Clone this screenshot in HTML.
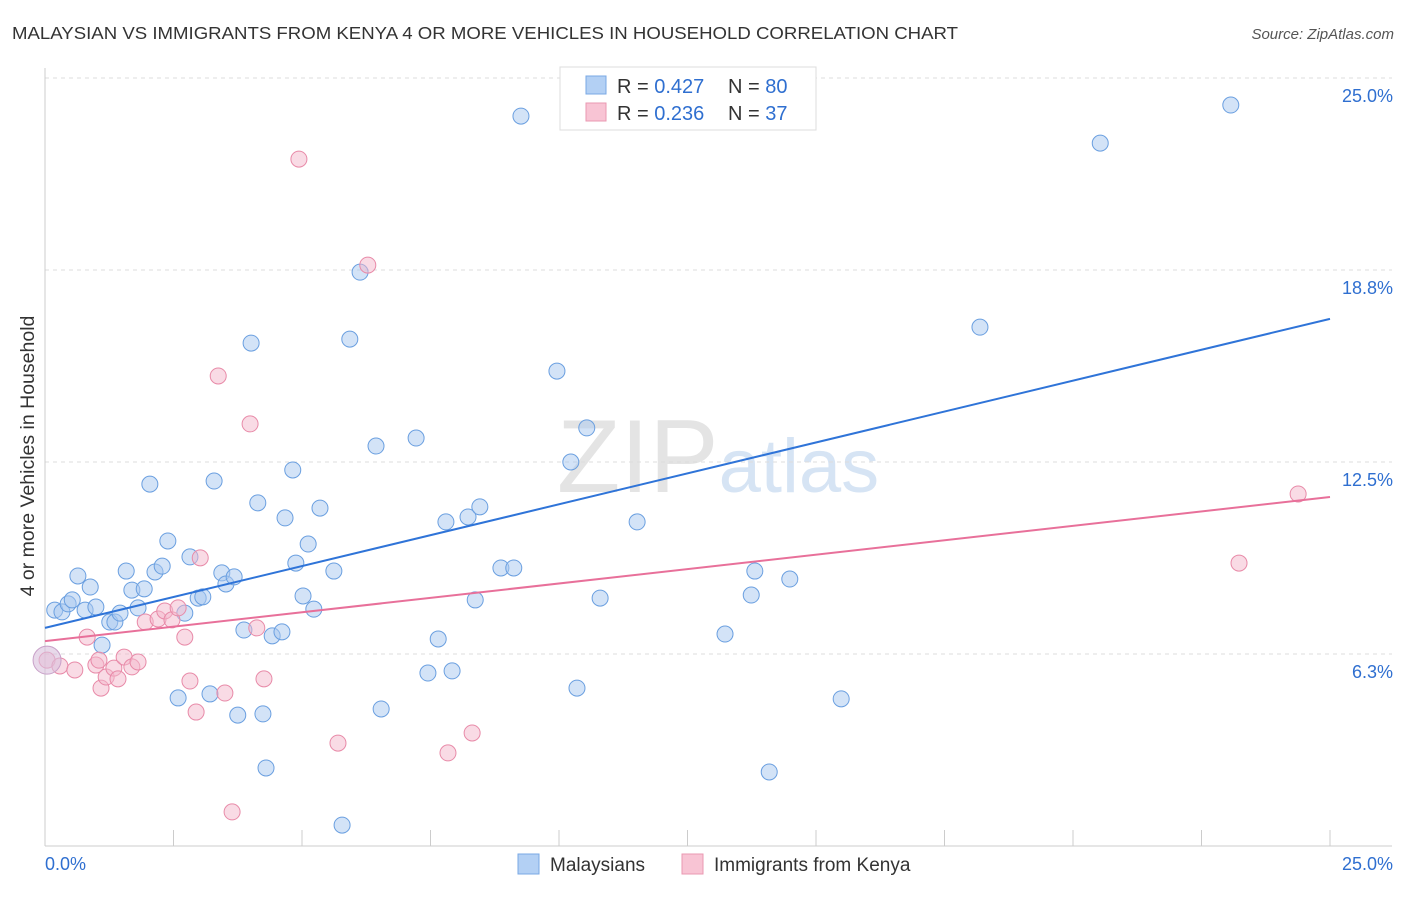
<!DOCTYPE html>
<html><head><meta charset="utf-8"><style>
body{margin:0;background:#fff;font-family:"Liberation Sans",sans-serif}
svg text{font-family:"Liberation Sans",sans-serif}
</style></head><body>
<svg id="c" width="1406" height="892" xmlns="http://www.w3.org/2000/svg">
<text x="12" y="39" font-size="17.5" fill="#333" textLength="946" lengthAdjust="spacingAndGlyphs">MALAYSIAN VS IMMIGRANTS FROM KENYA 4 OR MORE VEHICLES IN HOUSEHOLD CORRELATION CHART</text>
<text x="1394" y="39" font-size="15" fill="#555" font-style="italic" text-anchor="end">Source: ZipAtlas.com</text>
<text x="718" y="492" font-size="104" fill="#e4e4e4" text-anchor="middle" font-family="Liberation Serif">ZIP<tspan fill="#d6e4f4" font-family="Liberation Sans" font-size="76">atlas</tspan></text>
<g id="grid"></g><g id="axes"></g>
<text transform="translate(34,456) rotate(-90)" font-size="19.5" fill="#333" text-anchor="middle">4 or more Vehicles in Household</text>
<g id="pts"></g><g id="lines"></g>
<g>
<rect x="560" y="67" width="256" height="63" fill="#fff" stroke="#ddd"/>
<rect x="586" y="76" width="20" height="18" fill="#b3d0f4" stroke="#7aa8e4"/>
<rect x="586" y="103" width="20" height="18" fill="#f8c4d4" stroke="#ea98b2"/>
<text x="617" y="93" font-size="20" fill="#333">R = <tspan fill="#2f6fd0">0.427</tspan></text>
<text x="728" y="93" font-size="20" fill="#333">N = <tspan fill="#2f6fd0">80</tspan></text>
<text x="617" y="120" font-size="20" fill="#333">R = <tspan fill="#2f6fd0">0.236</tspan></text>
<text x="728" y="120" font-size="20" fill="#333">N =  <tspan fill="#2f6fd0">37</tspan></text>
</g>
<g>
<rect x="518" y="854" width="21" height="20" fill="#b3d0f4" stroke="#7aa8e4"/>
<text x="550" y="871" font-size="19" fill="#333">Malaysians</text>
<rect x="682" y="854" width="21" height="20" fill="#f8c4d4" stroke="#ea98b2"/>
<text x="714" y="871" font-size="19" fill="#333">Immigrants from Kenya</text>
</g>
</svg>
<script>
const yTicks=[6.25,12.5,18.75,25];
const yTickLabels=["6.3%","12.5%","18.8%","25.0%"];
const xTickLabels=["0.0%","25.0%"];
const blueX=[0.19,0.33,0.45,0.53,0.64,0.78,0.88,0.99,1.11,1.26,1.36,1.46,1.58,1.69,1.81,1.93,2.04,2.14,2.28,2.39,2.59,2.72,2.82,2.98,3.07,3.21,3.29,3.44,3.52,3.68,3.75,3.87,4.01,4.14,4.24,4.30,4.42,4.61,4.67,4.82,4.88,5.02,5.12,5.23,5.35,5.62,5.78,5.93,6.13,6.44,6.54,7.22,7.45,7.65,7.80,7.92,8.23,8.37,8.46,8.87,9.12,9.26,9.96,10.23,10.35,10.54,10.80,11.52,13.23,13.74,13.81,14.09,14.49,15.49,18.19,20.53,23.07];
const blueY=[7.68,7.62,7.88,8.01,8.79,7.68,8.43,7.78,6.54,7.29,7.29,7.58,8.95,8.33,7.75,8.37,11.78,8.92,9.11,9.93,4.82,7.58,9.41,8.07,8.11,4.95,11.88,8.89,8.53,8.76,4.26,7.03,16.37,11.17,4.30,2.54,6.84,6.97,10.68,12.24,9.21,8.14,9.83,7.71,11.00,8.95,0.68,16.50,18.68,13.02,4.46,13.28,5.63,6.74,10.55,5.70,10.71,8.01,11.04,9.05,9.05,23.76,15.46,12.50,5.14,13.61,8.07,10.55,6.90,8.17,8.95,2.41,8.69,4.79,16.89,22.88,24.12];
const pinkX=[0.04,0.29,0.58,0.82,0.99,1.05,1.09,1.19,1.34,1.42,1.54,1.69,1.81,1.95,2.20,2.33,2.47,2.59,2.72,2.82,2.94,3.02,3.37,3.50,3.64,3.99,4.12,4.26,4.94,5.70,6.28,7.84,8.31,23.23,24.38];
const pinkY=[6.05,5.86,5.73,6.80,5.89,6.05,5.14,5.50,5.79,5.44,6.15,5.83,5.99,7.29,7.39,7.65,7.36,7.75,6.80,5.37,4.36,9.38,15.30,4.98,1.11,13.74,7.10,5.44,22.36,3.35,18.91,3.03,3.68,9.21,11.46];
const blueTrend=[7.10,17.16];
const pinkTrend=[6.67,11.36];
const NS="http://www.w3.org/2000/svg";
const X=v=>45+v/25*1285, Y=v=>846-v/25*768;
function mk(t,a,p){const e=document.createElementNS(NS,t);for(const k in a)e.setAttribute(k,a[k]);document.getElementById(p).appendChild(e);return e;}
yTicks.forEach((t,i)=>{
 const g=mk('line',{x1:45,x2:1392,y1:Y(t),y2:Y(t),stroke:'#ddd','stroke-dasharray':'4,4'},'grid');
 
 
 const l=mk('text',{x:1393,y:Y(t)+24,'font-size':18,fill:'#2f6fd0','text-anchor':'end'},'axes');
 l.textContent=yTickLabels[i];
 
 
});
const ax=mk('line',{x1:45,x2:1392,y1:846,y2:846,stroke:'#ccc'},'axes');


const ay=mk('line',{x1:45,x2:45,y1:68,y2:846,stroke:'#ccc'},'axes');


for(let i=1;i<=10;i++){const t=mk('line',{x1:X(i*2.5),x2:X(i*2.5),y1:830,y2:846,stroke:'#ccc'},'axes');
 
 }
[[0,'start',45],[25,'end',1393]].forEach((d,i)=>{const l=mk('text',{x:d[2],y:870,'font-size':18,fill:'#2f6fd0','text-anchor':d[1]},'axes');l.textContent=xTickLabels[i];
 
 });
function pts(xs,ys,f,s,name){xs.forEach((x,i)=>{const c=mk('circle',{cx:X(x),cy:Y(ys[i]),r:8,fill:f,'fill-opacity':0.5,stroke:s,'stroke-width':1},'pts');
 
 });}
pts(blueX,blueY,'#a8c8f0','#6a9fe0','malaysian-point');
pts(pinkX,pinkY,'#f4b8cc','#e88aa8','kenya-point');
const big=mk('circle',{cx:X(0.04),cy:Y(6.05),r:14,fill:'#d8c0dc','fill-opacity':0.6,stroke:'#c8a0c8'},'pts');


const bl=mk('line',{x1:X(0),y1:Y(blueTrend[0]),x2:X(25),y2:Y(blueTrend[1]),stroke:'#2f74d8','stroke-width':2},'lines');


const pl=mk('line',{x1:X(0),y1:Y(pinkTrend[0]),x2:X(25),y2:Y(pinkTrend[1]),stroke:'#e8709a','stroke-width':2},'lines');


</script>
</body></html>
